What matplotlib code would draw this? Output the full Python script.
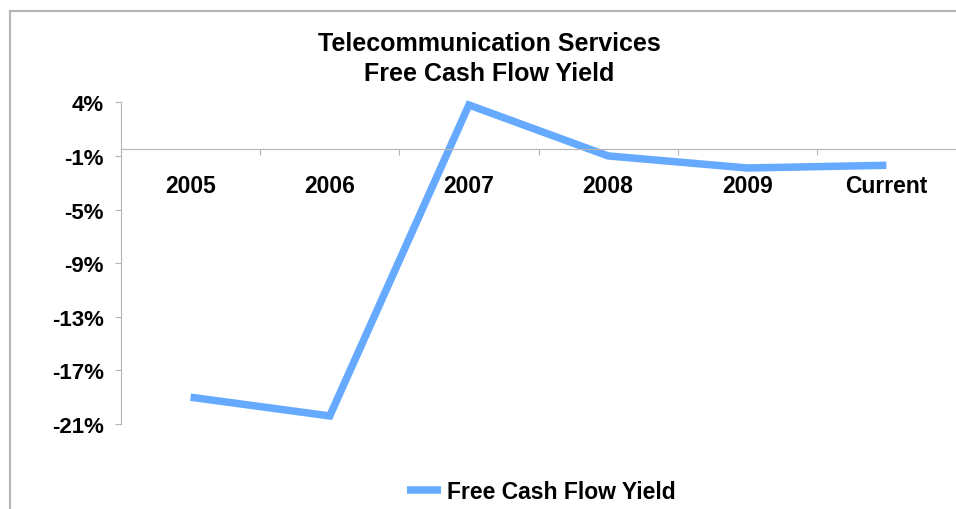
import matplotlib.pyplot as plt
from matplotlib.lines import Line2D

plt.rcParams['font.family'] = ['Liberation Sans', 'DejaVu Sans']
plt.rcParams['font.weight'] = 'bold'

categories = ['2005', '2006', '2007', '2008', '2009', 'Current']
fcf_yield = [-18.5, -19.9, 3.3, -0.5, -1.4, -1.2]
y_ticks = [3.5, -0.5, -4.5, -8.5, -12.5, -16.5, -20.5]
y_labels = ['4%', '-1%', '-5%', '-9%', '-13%', '-17%', '-21%']

grey = '#b4b4b4'
blue = '#66aaff'

fig = plt.figure(figsize=(9.56, 5.10), dpi=100)
ax = fig.add_axes([121 / 956, 85 / 510, 835 / 956, 321.7 / 510])

x = list(range(len(categories)))
ax.plot(x, fcf_yield, color=blue, linewidth=5.4, solid_joinstyle='miter',
        solid_capstyle='butt', clip_on=False, label='Free Cash Flow Yield')

ax.set_xlim(-0.5, len(categories) - 0.5)
ax.set_ylim(-20.5, 3.5)

for s in ['top', 'right']:
    ax.spines[s].set_visible(False)
ax.spines['left'].set_color(grey)
ax.spines['bottom'].set_color(grey)
ax.spines['bottom'].set_position(('data', 0))

ax.set_yticks(y_ticks)
ax.set_yticklabels(y_labels, fontsize=16, fontweight='bold')
ax.tick_params(axis='y', length=4.3, width=0.8, color=grey, pad=8)

# category boundary ticks, labels centred between them
ax.set_xticks([i + 0.5 for i in x[:-1]])
ax.set_xticklabels([])
ax.tick_params(axis='x', which='major', length=4.5, width=0.8, color=grey)
ax.set_xticks(x, minor=True)
ax.set_xticklabels(categories, minor=True, fontsize=16.5, fontweight='bold')
ax.tick_params(axis='x', which='minor', length=0, pad=18)

fig.text(489.5 / 956, 1 - 59 / 510,
         'Telecommunication Services\nFree Cash Flow Yield',
         ha='center', va='center', fontsize=18, fontweight='bold', linespacing=1.28)

fig.legend(loc='center', bbox_to_anchor=(541 / 956, 1 - 493 / 510), frameon=False,
           handlelength=1.5, handletextpad=0.25,
           prop={'weight': 'bold', 'size': 16.5})

# outer chart border (left and top edges)
fig.add_artist(Line2D([10 / 956, 10 / 956], [0, 1 - 12 / 510], color=grey, lw=1.5))
fig.add_artist(Line2D([10 / 956, 1], [1 - 12 / 510, 1 - 12 / 510], color=grey, lw=1.5))

fig.savefig('out.png', dpi=100)
